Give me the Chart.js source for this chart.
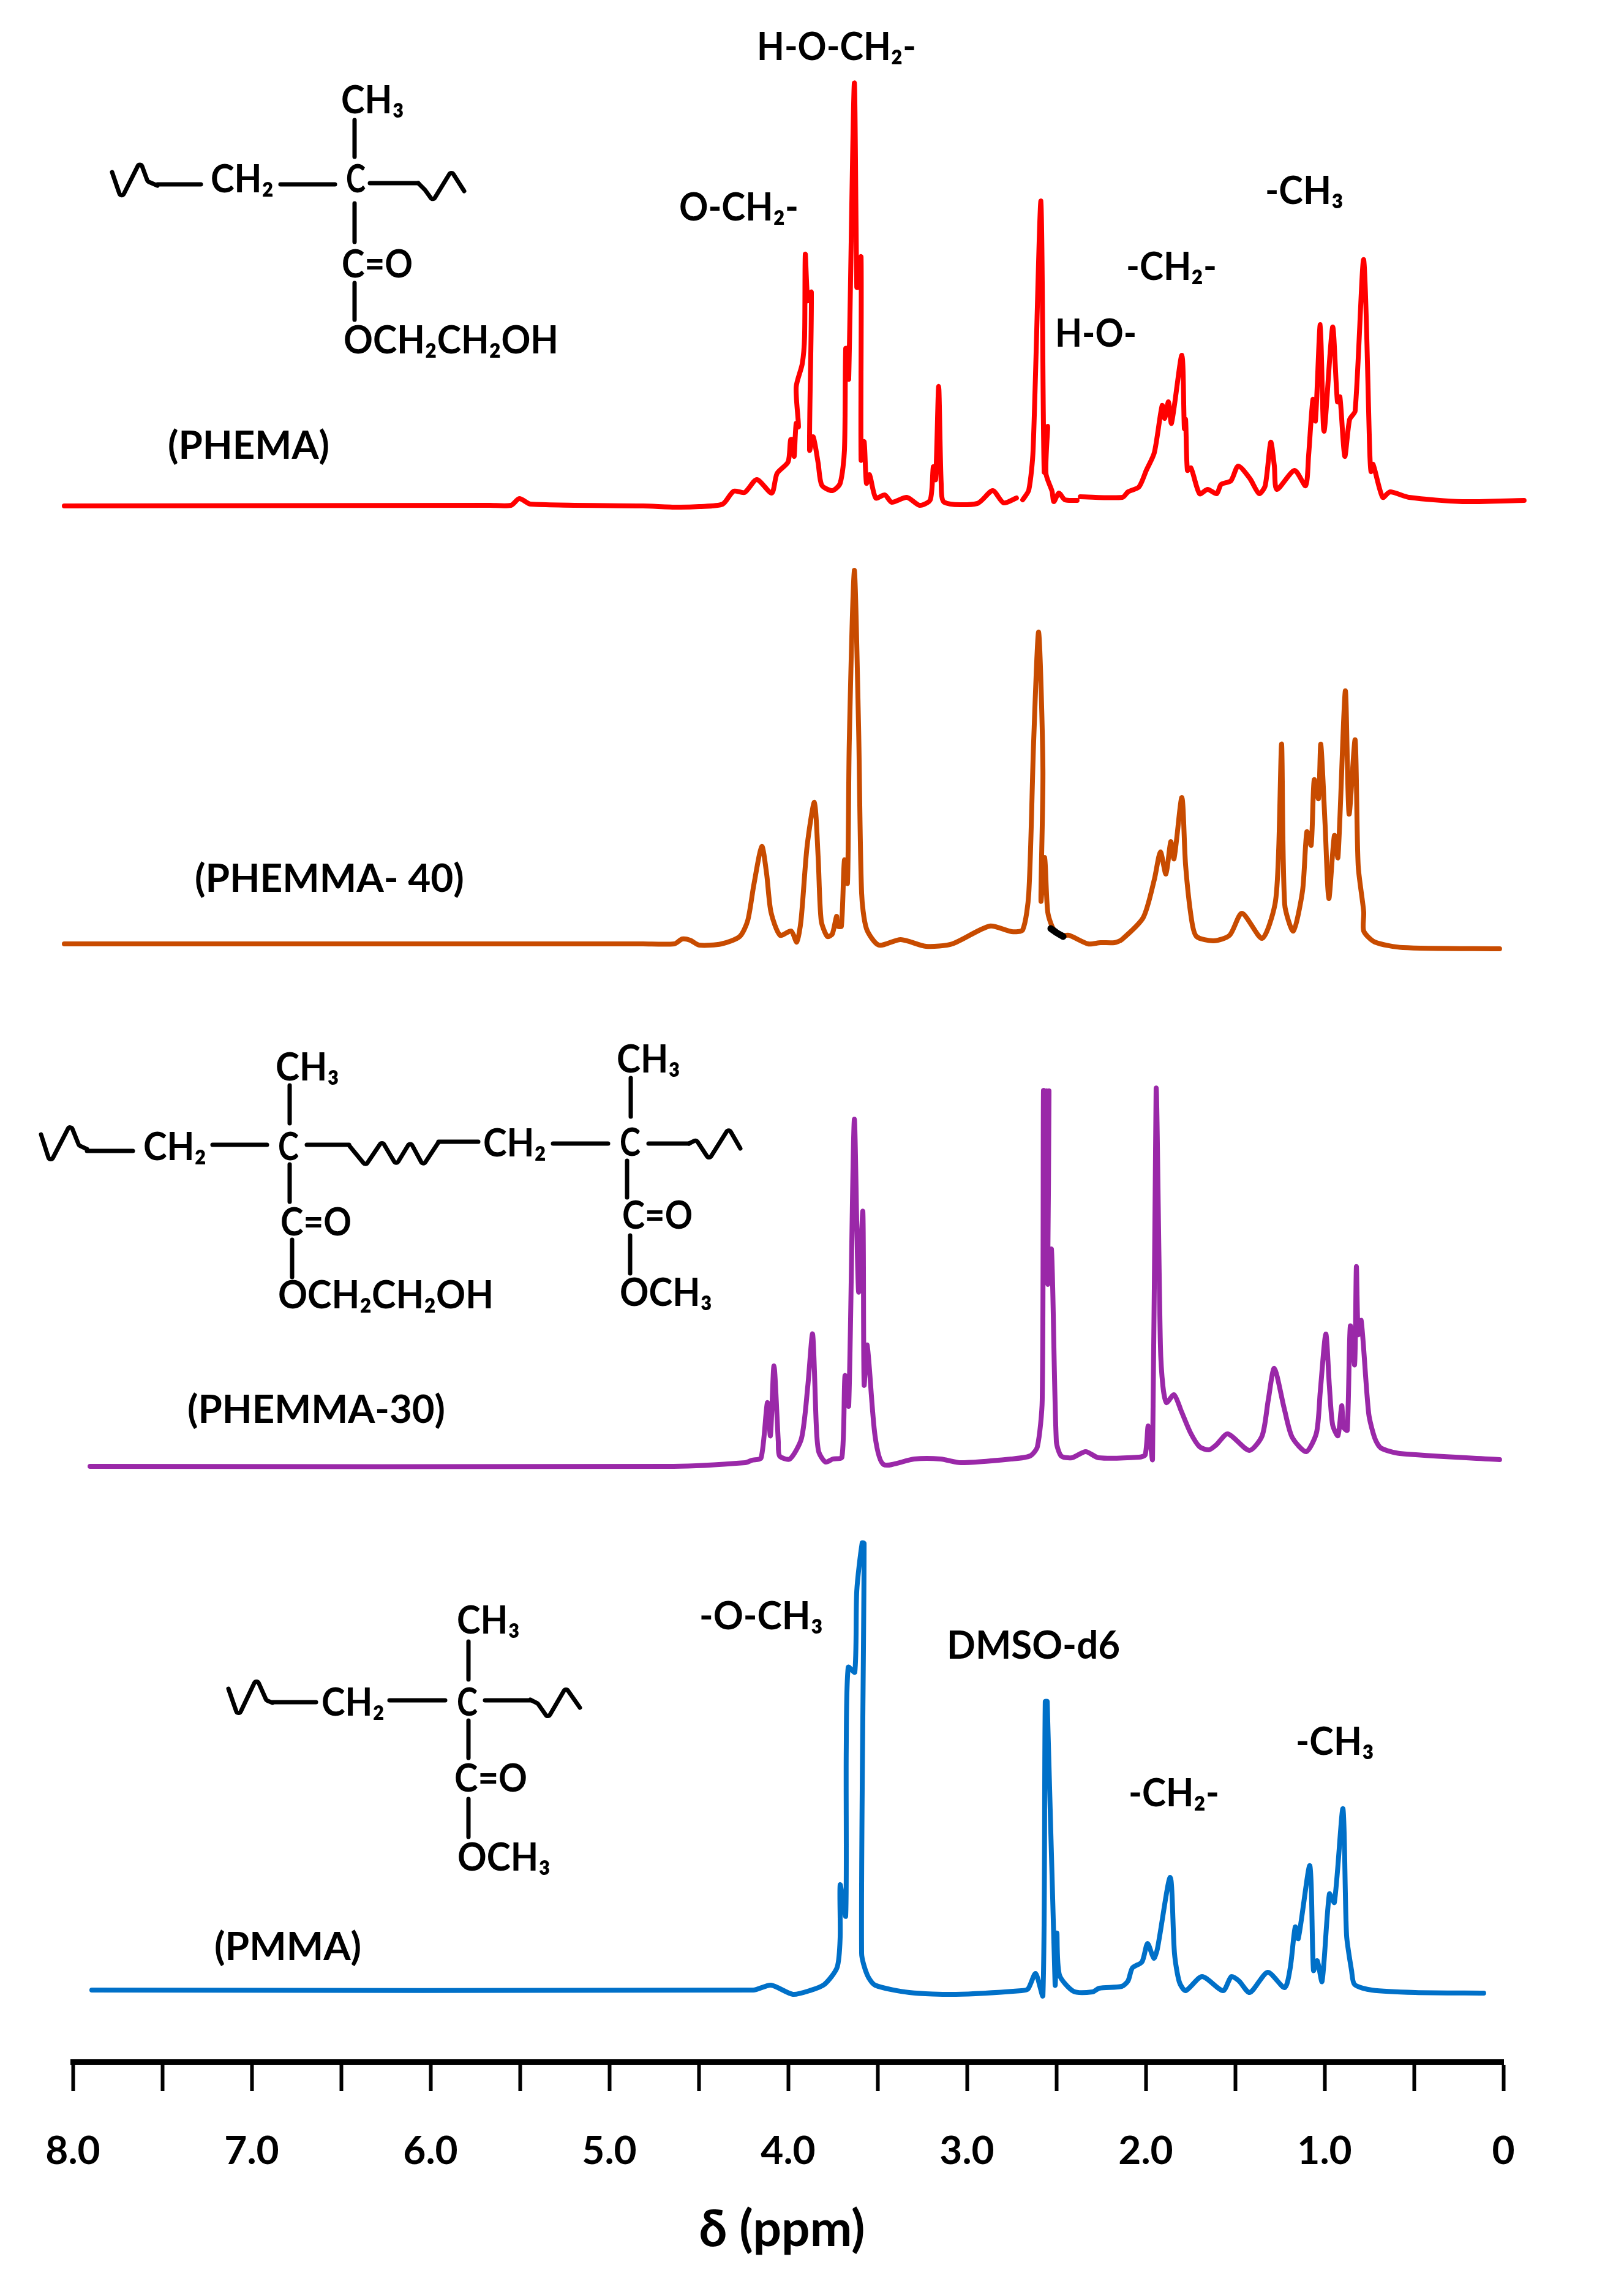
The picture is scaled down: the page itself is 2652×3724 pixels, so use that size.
<!DOCTYPE html>
<html>
<head>
<meta charset="utf-8">
<title>1H NMR spectra</title>
<script src="https://cdn.jsdelivr.net/npm/chart.js@4/dist/chart.umd.min.js"></script>
<style>
  html, body { margin: 0; padding: 0; background: #fff; }
  canvas { display: block; }
</style>
</head>
<body>
<canvas id="nmrChart" width="2652" height="3724"></canvas>
<script>
const tickValues = [8, 7.5, 7, 6.5, 6, 5.5, 5, 4.5, 4, 3.5, 3, 2.5, 2, 1.5, 1, 0.5, 0];
const tickLabels = ['8.0', '', '7.0', '', '6.0', '', '5.0', '', '4.0', '', '3.0', '', '2.0', '', '1.0', '', '0'];

// vertical stacking of the four spectra
const redOffset = 2540;
const orangeOffset = 1825;
const purpleOffset = 972;
const blueOffset = 117;

// PHEMA
const redPpm = [8.048, 5.668, 5.55, 5.503, 5.44, 4.812, 4.62, 4.497, 4.366, 4.305, 4.243, 4.175, 4.092, 4.062, 4.0, 3.986, 3.973, 3.966, 3.955, 3.942, 3.955, 3.921, 3.908, 3.904, 3.89, 3.87, 3.88, 3.86, 3.832, 3.812, 3.753, 3.709, 3.685, 3.678, 3.668, 3.661, 3.63, 3.616, 3.61, 3.592, 3.592, 3.575, 3.562, 3.545, 3.51, 3.459, 3.421, 3.336, 3.264, 3.205, 3.188, 3.175, 3.158, 3.144, 3.127, 2.942, 2.856, 2.795, 2.723, 2.705, 2.688, 2.654, 2.63, 2.586, 2.568, 2.548, 2.558, 2.524, 2.514, 2.486, 2.452, 2.384, 2.375, 2.366, 2.13, 2.099, 2.038, 1.997, 1.952, 1.908, 1.894, 1.873, 1.856, 1.798, 1.784, 1.777, 1.767, 1.747, 1.699, 1.654, 1.603, 1.579, 1.524, 1.483, 1.418, 1.366, 1.332, 1.301, 1.281, 1.267, 1.168, 1.106, 1.089, 1.065, 1.051, 1.024, 1.003, 0.955, 0.928, 0.914, 0.887, 0.86, 0.829, 0.781, 0.747, 0.74, 0.729, 0.675, 0.634, 0.527, 0.229, -0.116];
const redValues = [0, 1, 1, 12, 3, 0, -2, -1, 3, 24, 22, 43, 21, 53, 72, 108, 108, 81, 135, 129, 194, 232, 276, 411, 335, 349, 91, 113, 70, 34, 25, 37, 91, 257, 257, 208, 690, 357, 357, 406, 75, 105, 37, 51, 13, 18, 6, 14, 1, 10, 64, 43, 195, 37, 6, 4, 25, 5, 13, null, 10, 26, 91, 498, 56, 130, 53, 24, 7, 21, 10, 9, null, 15, 14, 23, 31, 58, 87, 164, 143, 170, 135, 246, 126, 141, 58, 62, 20, 27, 20, 35, 41, 65, 45, 20, 33, 104, 66, 27, 58, 33, 83, 174, 139, 296, 122, 292, 170, 178, 81, 141, 155, 402, 87, 56, 68, 14, 23, 14, 7, 9];

// PHEMMA-40
const orangePpm = [8.048, 4.812, 4.637, 4.592, 4.548, 4.497, 4.373, 4.271, 4.226, 4.192, 4.147, 4.12, 4.096, 4.045, 3.983, 3.952, 3.928, 3.894, 3.853, 3.832, 3.815, 3.781, 3.753, 3.729, 3.723, 3.702, 3.685, 3.668, 3.658, 3.63, 3.606, 3.589, 3.562, 3.493, 3.37, 3.229, 3.082, 2.873, 2.75, 2.688, 2.654, 2.627, 2.599, 2.575, 2.586, 2.565, 2.548, 2.514, 2.462, 2.428, 2.322, 2.253, 2.175, 2.134, 2.014, 1.952, 1.918, 1.887, 1.86, 1.842, 1.798, 1.777, 1.743, 1.716, 1.62, 1.531, 1.462, 1.349, 1.277, 1.257, 1.24, 1.223, 1.175, 1.123, 1.099, 1.075, 1.058, 1.034, 1.021, 0.997, 0.976, 0.945, 0.925, 0.884, 0.863, 0.829, 0.812, 0.781, 0.781, 0.719, 0.562, 0.021];
const orangeValues = [0, 0, 0, 8, 6, -2, 0, 12, 38, 96, 159, 114, 52, 14, 21, 3, 38, 159, 231, 141, 38, 12, 16, 45, 29, 29, 137, 99, 329, 610, 355, 83, 25, -2, 7, -4, 0, 29, 20, 23, 83, 329, 509, 284, 70, 141, 52, 23, 14, 14, 0, 2, 2, 7, 43, 105, 150, 114, 167, 139, 239, 128, 38, 12, 5, 14, 50, 9, 65, 150, 326, 65, 21, 87, 183, 161, 268, 237, 326, 195, 74, 177, 141, 413, 212, 333, 128, 52, 21, 3, -6, -8];

// black smudge on the PHEMMA-40 trace near 2.5 ppm
const smudgePpm = [2.531, 2.497, 2.462];
const smudgeValues = [25, 18, 12];

// PHEMMA-30
const purplePpm = [7.904, 4.64, 4.24, 4.202, 4.151, 4.116, 4.099, 4.079, 4.055, 4.048, 3.99, 3.925, 3.89, 3.863, 3.842, 3.829, 3.791, 3.75, 3.699, 3.682, 3.661, 3.63, 3.606, 3.582, 3.575, 3.558, 3.514, 3.466, 3.295, 3.147, 3.034, 2.753, 2.647, 2.606, 2.579, 2.572, 2.562, 2.555, 2.548, 2.541, 2.548, 2.527, 2.5, 2.473, 2.414, 2.336, 2.264, 2.038, 2.003, 1.986, 1.962, 1.942, 1.918, 1.904, 1.884, 1.842, 1.801, 1.75, 1.699, 1.647, 1.606, 1.541, 1.421, 1.349, 1.315, 1.281, 1.226, 1.182, 1.103, 1.045, 1.024, 0.993, 0.973, 0.955, 0.925, 0.904, 0.894, 0.873, 0.856, 0.832, 0.822, 0.812, 0.795, 0.753, 0.719, 0.685, 0.579, 0.021];
const purpleValues = [0, 0, 6, 10, 14, 104, 50, 164, 41, 17, 12, 46, 131, 216, 64, 24, 7, 12, 15, 148, 99, 566, 285, 416, 133, 198, 50, 3, 12, 12, 6, 12, 17, 32, 108, 613, 320, 613, 320, 613, 298, 354, 41, 17, 14, 24, 14, 15, 19, 66, 12, 617, 198, 131, 104, 117, 90, 55, 32, 27, 35, 53, 26, 50, 108, 160, 95, 48, 24, 55, 122, 216, 131, 68, 50, 99, 64, 59, 229, 166, 326, 215, 238, 86, 46, 30, 21, 11];

// PMMA
const bluePpm = [7.894, 4.195, 4.096, 3.973, 3.88, 3.798, 3.726, 3.709, 3.709, 3.678, 3.675, 3.664, 3.627, 3.616, 3.586, 3.575, 3.589, 3.558, 3.514, 3.322, 3.062, 2.695, 2.658, 2.616, 2.575, 2.562, 2.551, 2.507, 2.497, 2.483, 2.404, 2.298, 2.26, 2.134, 2.099, 2.075, 2.021, 1.99, 1.955, 1.935, 1.863, 1.839, 1.812, 1.777, 1.685, 1.568, 1.521, 1.479, 1.418, 1.318, 1.223, 1.192, 1.164, 1.147, 1.082, 1.062, 1.041, 1.014, 0.973, 0.945, 0.897, 0.877, 0.849, 0.832, 0.736, 0.493, 0.11];
const blueValues = [0, 0, 8, -7, -1, 9, 37, 86, 172, 121, 392, 527, 519, 652, 730, 729, 60, 25, 8, -4, -7, -1, 2, 27, -9, 471, 471, 9, 93, 25, -2, -3, 3, 6, 15, 36, 46, 76, 52, 67, 184, 59, 13, -1, 22, -1, 22, 15, -4, 29, 4, 36, 103, 84, 203, 32, 48, 14, 157, 143, 296, 90, 32, 9, 0, -4, -5];

function toPoints(ppm, values, offset) {
  return ppm.map((p, i) => ({ x: p, y: values[i] === null ? null : values[i] + offset }));
}

function trace(label, ppm, values, offset, color, width) {
  return {
    label: label,
    data: toPoints(ppm, values, offset),
    borderColor: color,
    backgroundColor: color,
    borderWidth: width,
    pointRadius: 0,
    tension: 0.25,
    capBezierPoints: false,
    spanGaps: false,
    borderJoinStyle: 'round',
    borderCapStyle: 'round',
    clip: false,
  };
}

// peak assignments, polymer names and the repeat unit drawings: [text, left, baseline, width]
const annotations = [
  ['H-O-CH₂-', 1236, 98, 260],
  ['O-CH₂-', 1109, 360, 195],
  ['H-O-', 1723, 566, 133],
  ['-CH₂-', 1839, 457, 148],
  ['-CH₃', 2066, 333, 128],
  ['(PHEMA)', 274, 749, 264],
  ['(PHEMMA- 40)', 318, 1456, 442],
  ['(PHEMMA-30)', 306, 2323, 421],
  ['(PMMA)', 350, 3200, 248],
  ['-O-CH₃', 1142, 2660, 202],
  ['DMSO-d6', 1546, 2708, 283],
  ['-CH₂-', 1843, 2949, 148],
  ['-CH₃', 2116, 2865, 128],
  // PHEMA unit
  ['CH₃', 557, 185, 103], ['CH₂', 344, 314, 103], ['C', 565, 314, 32],
  ['C=O', 558, 453, 116], ['OCH₂CH₂OH', 561, 577, 351],
  // PHEMMA unit
  ['CH₃', 450, 1764, 104], ['CH₂', 234, 1894, 103], ['C', 454, 1894, 34],
  ['C=O', 458, 2017, 116], ['OCH₂CH₂OH', 454, 2136, 352],
  ['CH₃', 1007, 1751, 104], ['CH₂', 789, 1888, 103], ['C', 1012, 1887, 34],
  ['C=O', 1016, 2006, 115], ['OCH₃', 1012, 2132, 151],
  // PMMA unit
  ['CH₃', 746, 2667, 103], ['CH₂', 525, 2801, 103], ['C', 746, 2801, 34],
  ['C=O', 742, 2925, 119], ['OCH₃', 747, 3054, 152],
];

const bonds = [
  // PHEMA unit
  [[579, 196], [579, 256]], [[579, 332], [579, 395]], [[579, 462], [579, 522]],
  [[257, 301], [328, 301]], [[458, 301], [547, 301]], [[604, 299], [683, 299]],
  [[183, 281], [198, 325], [229, 263], [241, 296], [257, 303]],
  [[683, 299], [694, 310], [707, 328], [737, 279], [758, 312]],
  // PHEMMA unit
  [[473, 1772], [473, 1834]], [[473, 1901], [473, 1962]], [[477, 2024], [477, 2085]],
  [[1030, 1760], [1030, 1823]], [[1024, 1895], [1024, 1955]], [[1029, 2017], [1029, 2079]],
  [[142, 1879], [217, 1879]], [[347, 1869], [436, 1869]], [[501, 1869], [570, 1869]],
  [[716, 1864], [781, 1864]], [[903, 1867], [993, 1867]], [[1059, 1867], [1125, 1867]],
  [[67, 1852], [82, 1899], [115, 1835], [129, 1870], [142, 1876]],
  [[570, 1870], [597, 1903], [624, 1863], [647, 1902], [670, 1864], [691, 1903], [716, 1865]],
  [[1125, 1867], [1137, 1861], [1158, 1893], [1190, 1842], [1209, 1875]],
  // PMMA unit
  [[765, 2680], [765, 2742]], [[765, 2809], [765, 2870]], [[765, 2937], [765, 2999]],
  [[445, 2779], [516, 2779]], [[636, 2776], [727, 2776]], [[792, 2776], [866, 2776]],
  [[373, 2757], [389, 2803], [419, 2740], [435, 2776], [445, 2780]],
  [[866, 2775], [878, 2781], [895, 2805], [924, 2755], [947, 2788]],
];

const labelPlugin = {
  id: 'labelPlugin',
  afterDraw(chart) {
    const ctx = chart.ctx;
    ctx.save();
    ctx.fillStyle = '#000';
    ctx.strokeStyle = '#000';
    ctx.lineWidth = 7;
    ctx.lineJoin = 'round';
    ctx.lineCap = 'round';
    bonds.forEach(b => {
      ctx.beginPath();
      ctx.moveTo(b[0][0], b[0][1]);
      for (let i = 1; i < b.length - 1; i++) {
        ctx.arcTo(b[i][0], b[i][1], b[i + 1][0], b[i + 1][1], 4);
      }
      ctx.lineTo(b[b.length - 1][0], b[b.length - 1][1]);
      ctx.stroke();
    });
    ctx.font = 'bold 64px Lato';
    ctx.textAlign = 'left';
    ctx.textBaseline = 'alphabetic';
    annotations.forEach(a => ctx.fillText(a[0], a[1], a[2], a[3]));
    ctx.restore();
  },
};

new Chart(document.getElementById('nmrChart'), {
  type: 'line',
  data: {
    datasets: [
      trace('smudge', smudgePpm, smudgeValues, orangeOffset, '#000000', 11),
      trace('PHEMA', redPpm, redValues, redOffset, '#FF0000', 8),
      trace('PHEMMA-40', orangePpm, orangeValues, orangeOffset, '#C84B00', 8),
      trace('PHEMMA-30', purplePpm, purpleValues, purpleOffset, '#9A28A8', 8),
      trace('PMMA', bluePpm, blueValues, blueOffset, '#0070C8', 8),
    ],
  },
  options: {
    responsive: false,
    animation: false,
    layout: { padding: { left: 119, right: 197, top: 0, bottom: 0 } },
    plugins: { legend: { display: false }, tooltip: { enabled: false } },
    scales: {
      x: {
        type: 'linear',
        reverse: true,
        min: 0,
        max: 8,
        afterFit(scale) { scale.height = 358; },
        afterBuildTicks(scale) { scale.ticks = tickValues.map(v => ({ value: v })); },
        grid: { drawOnChartArea: false, drawTicks: true, tickLength: 48, tickWidth: 6, tickColor: '#000' },
        border: { display: true, color: '#000', width: 9 },
        ticks: {
          autoSkip: false,
          maxRotation: 0,
          padding: 60,
          color: '#000',
          font: { family: 'Lato', size: 64, weight: 'bold' },
          callback: v => tickLabels[tickValues.indexOf(v)],
        },
        title: {
          display: true,
          text: 'δ (ppm)\u00a0',
          color: '#000',
          font: { family: 'Lato', size: 82, weight: 'bold' },
          padding: { top: 0, bottom: 34 },
        },
      },
      y: { display: false, min: 0, max: 3366 },
    },
  },
  plugins: [labelPlugin],
});
</script>
</body>
</html>
